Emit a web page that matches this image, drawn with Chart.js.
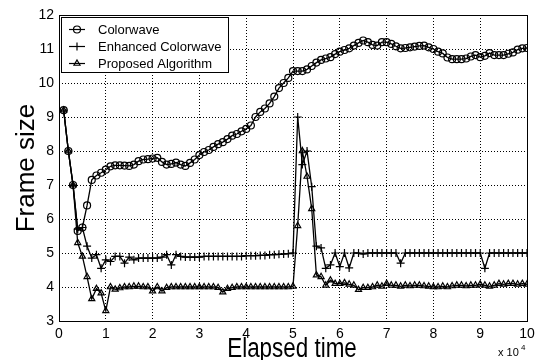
<!DOCTYPE html>
<html>
<head>
<meta charset="utf-8">
<script src="https://cdn.jsdelivr.net/npm/chart.js@4"></script>
<style>
  html, body { margin: 0; padding: 0; background: #fff; }
</style>
</head>
<body>
<canvas id="frameChart" width="542" height="360"></canvas>
<script>
// elapsed time samples (x 10^4)
const elapsed = [
  0.1, 0.2, 0.3, 0.4, 0.5, 0.6, 0.7, 0.8, 0.9, 1.0,
  1.1, 1.2, 1.3, 1.4, 1.5, 1.6, 1.7, 1.8, 1.9, 2.0,
  2.1, 2.2, 2.3, 2.4, 2.5, 2.6, 2.7, 2.8, 2.9, 3.0,
  3.1, 3.2, 3.3, 3.4, 3.5, 3.6, 3.7, 3.8, 3.9, 4.0,
  4.1, 4.2, 4.3, 4.4, 4.5, 4.6, 4.7, 4.8, 4.9, 5.0,
  5.1, 5.2, 5.3, 5.4, 5.5, 5.6, 5.7, 5.8, 5.9, 6.0,
  6.1, 6.2, 6.3, 6.4, 6.5, 6.6, 6.7, 6.8, 6.9, 7.0,
  7.1, 7.2, 7.3, 7.4, 7.5, 7.6, 7.7, 7.8, 7.9, 8.0,
  8.1, 8.2, 8.3, 8.4, 8.5, 8.6, 8.7, 8.8, 8.9, 9.0,
  9.1, 9.2, 9.3, 9.4, 9.5, 9.6, 9.7, 9.8, 9.9, 10.0
];

const colorwave = [
  9.2, 8.0, 7.0, 5.65, 5.75, 6.4, 7.15, 7.28, 7.36, 7.45,
  7.55, 7.58, 7.58, 7.57, 7.56, 7.6, 7.7, 7.75, 7.76, 7.78,
  7.8, 7.68, 7.6, 7.62, 7.66, 7.6, 7.56, 7.65, 7.75, 7.88,
  7.97, 8.03, 8.12, 8.2, 8.26, 8.35, 8.45, 8.5, 8.58, 8.65,
  8.75, 9.0, 9.15, 9.25, 9.4, 9.6, 9.85, 10.0, 10.15, 10.35,
  10.35, 10.35, 10.4, 10.5, 10.6, 10.68, 10.72, 10.76, 10.85, 10.92,
  10.97, 11.02, 11.1, 11.18, 11.25, 11.2, 11.12, 11.1, 11.2, 11.2,
  11.15, 11.08, 11.02, 11.03, 11.05, 11.07, 11.09, 11.1, 11.05, 11.0,
  10.92, 10.87, 10.75, 10.7, 10.7, 10.7, 10.72, 10.78, 10.82, 10.76,
  10.8, 10.88, 10.82, 10.82, 10.82, 10.86, 10.9, 10.98, 11.02, 11.03
];

const enhanced = [
  9.2, 8.0, 7.0, 5.7, 5.75, 5.2, 4.85, 4.95, 4.55, 4.8,
  4.75, 4.9, 4.9, 4.7, 4.88, 4.8, 4.85, 4.85, 4.85, 4.85,
  4.85, 4.88, 4.95, 4.65, 4.95, 4.9, 4.88, 4.88, 4.88, 4.88,
  4.9, 4.9, 4.9, 4.9, 4.9, 4.9, 4.9, 4.9, 4.9, 4.92,
  4.92, 4.92, 4.93, 4.93, 4.95, 4.95, 4.96, 4.97, 4.98, 5.0,
  9.0, 7.6, 8.0, 6.95, 5.2, 5.15, 4.55, 4.65, 5.0, 4.6,
  5.0, 4.56, 5.0, 5.0, 4.97, 5.0, 5.0, 5.0, 5.0, 5.0,
  5.0, 5.0, 4.7, 5.0, 5.0, 5.0, 5.0, 5.0, 5.0, 5.0,
  5.0, 5.0, 5.0, 5.0, 5.0, 5.0, 5.0, 5.0, 5.0, 5.0,
  4.55, 5.0, 5.0, 5.0, 5.0, 5.0, 5.0, 5.0, 5.0, 5.0
];

const proposed = [
  9.2, 8.0, 7.0, 5.3, 4.9, 4.3, 3.65, 3.95, 3.82, 3.3,
  4.0, 3.93, 3.97, 4.0, 4.0, 4.02, 4.02, 4.0, 4.0, 3.88,
  4.0, 3.88, 3.98, 4.0, 4.0, 4.0, 4.0, 4.0, 4.0, 4.0,
  4.0, 4.0, 4.0, 3.98, 3.85, 3.95, 3.98, 4.0, 4.0, 4.0,
  4.0, 4.0, 4.0, 4.0, 4.0, 4.0, 4.0, 4.0, 4.0, 4.02,
  5.8, 8.0, 7.25, 6.3, 4.35, 4.3, 4.05, 4.2, 4.1, 4.1,
  4.12, 4.08, 4.05, 3.92, 3.98, 3.98, 4.0, 4.05, 4.02, 4.1,
  4.05, 4.05, 4.02, 4.05, 4.03, 4.05, 4.05, 4.03, 4.02, 4.0,
  4.0, 4.02, 4.0, 4.03, 4.05, 4.05, 4.03, 4.05, 4.05, 4.08,
  4.05, 4.02, 4.05, 4.1, 4.08, 4.1, 4.1, 4.08, 4.1, 4.08
];

const seriesNames = ['Colorwave', 'Enhanced Colorwave', 'Proposed Algorithm'];
const xTicks = [0, 1, 2, 3, 4, 5, 6, 7, 8, 9, 10];
const yTicks = [3, 4, 5, 6, 7, 8, 9, 10, 11, 12];

const toPoints = vals => vals.map((v, i) => ({ x: elapsed[i], y: v }));

function series(label, vals, style, radius) {
  return {
    label: label,
    data: toPoints(vals),
    borderColor: '#000',
    borderWidth: 1.3,
    pointStyle: style,
    pointRadius: radius,
    pointBorderColor: '#000',
    pointBackgroundColor: 'rgba(0,0,0,0)',
    pointBorderWidth: 1.2,
    tension: 0
  };
}

// frame, legend box, x title and exponent label, drawn on top
const extrasPlugin = {
  id: 'extras',
  afterDraw(chart) {
    const ctx = chart.ctx;
    const a = chart.chartArea;
    ctx.save();
    ctx.setLineDash([]);
    ctx.strokeStyle = '#000';
    ctx.lineWidth = 1;
    ctx.strokeRect(Math.round(a.left) + 0.5, Math.round(a.top) + 0.5,
      Math.round(a.right - a.left), Math.round(a.bottom - a.top));

    // legend
    const bx = 61.5, by = 17.5, bw = 167, bh = 55;
    ctx.fillStyle = '#fff';
    ctx.fillRect(bx, by, bw, bh);
    ctx.strokeRect(bx, by, bw, bh);
    ctx.font = '13px "Liberation Sans", Arial, sans-serif';
    ctx.textBaseline = 'middle';
    chart.data.datasets.forEach((ds, i) => {
      const yy = 29.5 + i * 17;
      ctx.strokeStyle = '#000';
      ctx.lineWidth = 1.2;
      ctx.beginPath();
      ctx.moveTo(69, yy);
      ctx.lineTo(85, yy);
      ctx.stroke();
      ctx.fillStyle = 'rgba(0,0,0,0)';
      Chart.helpers.drawPoint(ctx, {
        pointStyle: ds.pointStyle, radius: ds.pointRadius, borderWidth: 1.2, rotation: 0
      }, 77, yy);
      ctx.fillStyle = '#000';
      ctx.fillText(ds.label, 98, yy + 1);
    });

    // x axis title, condensed like the original
    ctx.fillStyle = '#000';
    ctx.textBaseline = 'alphabetic';
    ctx.textAlign = 'center';
    ctx.save();
    ctx.translate(292, 357);
    ctx.scale(0.83, 1);
    ctx.font = '27px "Liberation Sans", Arial, sans-serif';
    ctx.fillText('Elapsed time', 0, 0);
    ctx.restore();

    // x 10^4 label
    ctx.textAlign = 'left';
    ctx.font = '11px "Liberation Sans", Arial, sans-serif';
    ctx.fillText('x 10', 498, 356);
    ctx.font = '8px "Liberation Sans", Arial, sans-serif';
    ctx.fillText('4', 521, 350);
    ctx.restore();
  }
};

const tickFont = { family: '"Liberation Sans", Arial, sans-serif', size: 14 };

new Chart(document.getElementById('frameChart'), {
  type: 'line',
  data: {
    datasets: [
      series(seriesNames[0], colorwave, 'circle', 3.5),
      series(seriesNames[1], enhanced, 'cross', 4),
      series(seriesNames[2], proposed, 'triangle', 3.5)
    ]
  },
  options: {
    responsive: false,
    animation: false,
    layout: { padding: { top: 15, right: 15, left: 0, bottom: 0 } },
    plugins: { legend: { display: false }, tooltip: { enabled: false } },
    scales: {
      x: {
        type: 'linear',
        min: 0,
        max: 10,
        afterBuildTicks: s => { s.ticks = xTicks.map(v => ({ value: v })); },
        afterFit: s => { s.height = 39; },
        grid: { color: '#000', lineWidth: 1, drawTicks: false },
        border: { display: false, dash: [1, 2] },
        ticks: { color: '#000', font: tickFont, padding: 5, maxRotation: 0 }
      },
      y: {
        type: 'linear',
        min: 3,
        max: 12,
        afterBuildTicks: s => { s.ticks = yTicks.map(v => ({ value: v })); },
        afterFit: s => { s.width = 59; },
        grid: { color: '#000', lineWidth: 1, drawTicks: false },
        border: { display: false, dash: [1, 2] },
        ticks: { color: '#000', font: tickFont, padding: 5 },
        title: {
          display: true,
          text: 'Frame size',
          color: '#000',
          font: { family: '"Liberation Sans", Arial, sans-serif', size: 26, lineHeight: 1 },
          padding: { top: 14, bottom: 0 }
        }
      }
    }
  },
  plugins: [extrasPlugin]
});
</script>
</body>
</html>
